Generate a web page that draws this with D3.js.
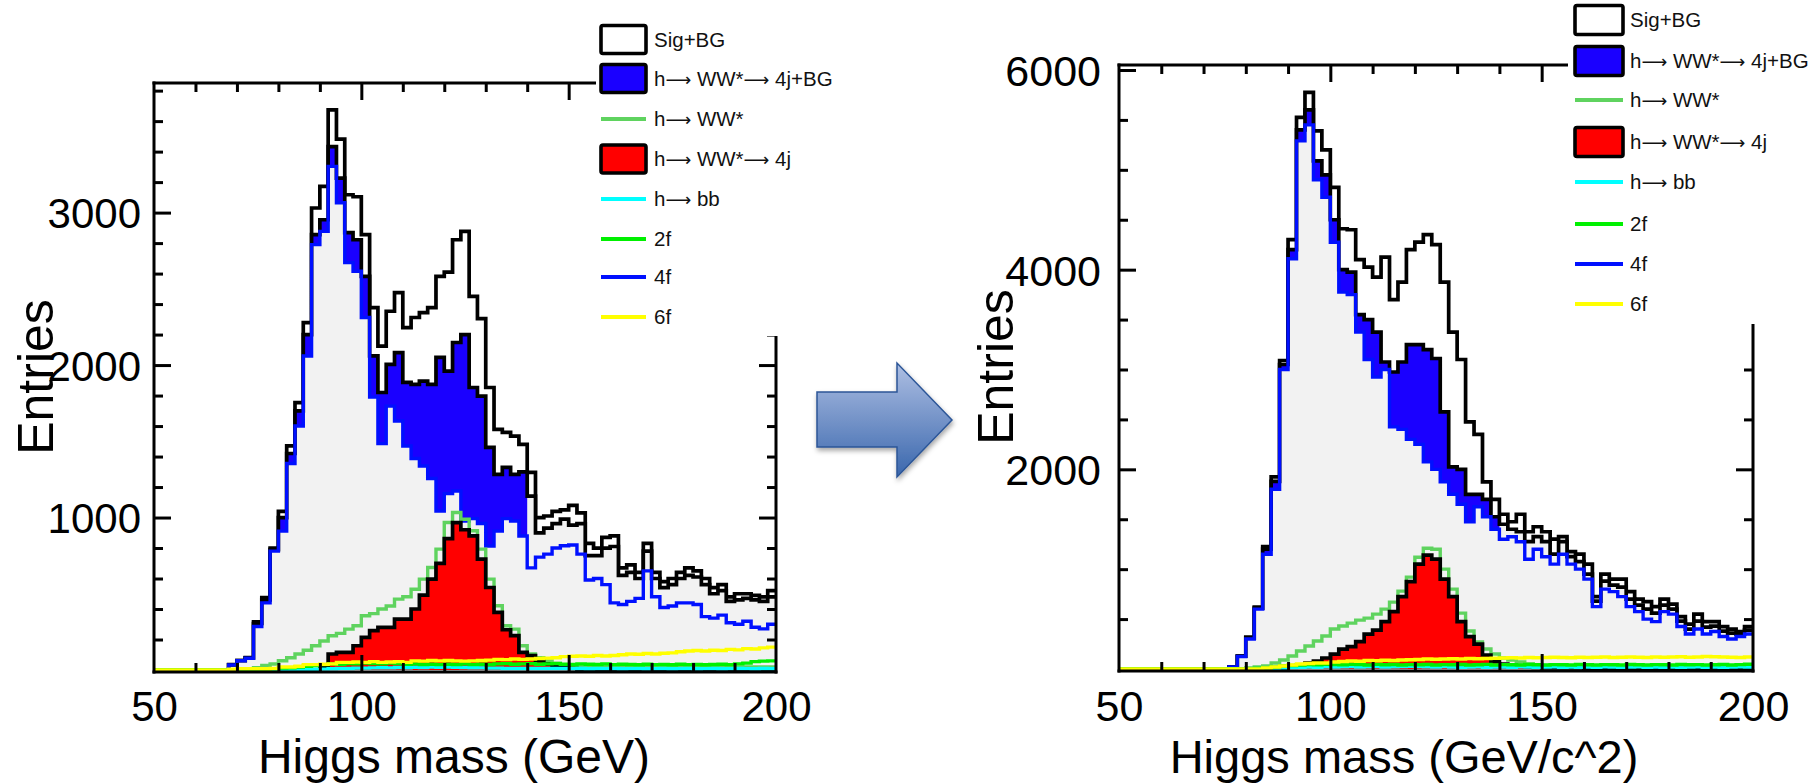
<!DOCTYPE html>
<html><head><meta charset="utf-8">
<script src="https://cdn.jsdelivr.net/npm/d3@7"></script>
<style>
html,body{margin:0;padding:0;background:#fff;}
svg{display:block;font-family:"Liberation Sans",Arial,Helvetica,sans-serif;}
</style></head><body>
<svg id="chart" width="1818" height="783"></svg>
<script>
// ---------------- DATA ----------------
const binLow = d3.range(50, 200, 2); // 75 bins, 2 GeV wide, 50..200

// LEFT panel (Higgs mass (GeV))
const L_sigBG = [0,0,0,0,0, 0,0,0,0,35, 62,82,315,475,800, 1040,1470,1754,2279,3030,
  3172,3674,3482,3117,3104, 2855,2377,2124,2353,2475, 2246,2312,2344,2377,2582,
  2609,2822,2877,2451,2305, 1853,1578,1558,1534,1480, 1296,1000,1010,1040,1050,
  1080,1030,830,800,870, 880,670,690,640,830, 640,580,600,640,670,
  650,600,540,560,480, 500,500,490,480,520];
const L_sig4jBG = [0,0,0,0,0, 0,0,0,0,34, 61,79,305,460,790, 1000,1420,1700,2200,2855,
  2953,3433,3226,2868,2822, 2582,2060,1820,2004,2082, 1886,1873,1895,1873,2050,
  1960,2148,2200,1853,1796, 1460,1283,1329,1283,1300, 1140,900,930,960,990,
  950,960,750,750,800, 810,620,640,600,780, 600,540,560,600,620,
  610,560,500,520,450, 460,470,460,450,480];
const L_bgAll = [0,0,0,0,0, 0,0,0,0,33, 61,77,285,440,780, 911,1354,1600,2059,2790,
  2877,3303,3065,2672,2615, 2312,1790,1485,1731,1633, 1469,1387,1338,1256,1043,
  1157,1174,977,993,961, 813,911,993,977,879, 1140,900,930,960,990,
  950,960,750,750,800, 810,620,640,600,780, 600,540,560,600,620,
  610,560,500,520,450, 460,470,460,450,480];
const L_f4 = [0,0,0,0,0, 0,0,0,0,33, 61,77,285,440,780, 911,1354,1600,2059,2790,
  2877,3303,3065,2672,2615, 2312,1790,1485,1731,1633, 1469,1387,1338,1256,1043,
  1157,1174,977,993,961, 813,911,993,977,879, 670,740,760,800,815,
  820,760,590,600,560, 440,430,450,470,650, 480,410,420,440,440,
  430,350,340,360,310, 300,320,280,270,300];
const L_hww = [0,0,0,0,0, 0,0,0,0,0, 0,5,15,30,39, 61,80,105,130,159,
  190,225,240,268,290, 356,370,400,420,465, 480,530,596,672,793,
  967,1033,989,913,793, 596,421,290,268,159, 105,80,60,45,35,
  30,25,25,25,25, 25,25,25,25,25, 25,20,20,20,20,
  20,20,20,20,20, 20,20,20,20,20];
const L_h4j = [0,0,0,0,0, 0,0,0,0,0, 0,0,0,0,0, 0,0,0,0,0,
  20,105,116,116,159, 214,258,279,279,334, 334,400,491,596,699,
  862,967,920,880,727, 541,378,264,225,116, 94,61,40,25,15,
  10,5,5,5,5, 5,5,5,5,5, 4,4,4,4,4,
  3,3,3,3,3, 3,3,3,3,3];
const L_hbb = [0,0,0,0,0, 0,0,0,0,0, 0,0,0,0,0, 0,2,3,4,5,
  6,8,10,10,12, 12,14,15,14,16, 15,18,16,20,18,
  20,18,16,15,14, 12,12,10,10,10, 10,10,10,10,10,
  9,10,8,10,9, 10,8,9,10,8, 9,10,8,9,10,
  8,9,10,8,9, 10,9,8,10,9];
const L_f2 = [0,0,0,0,0, 0,0,0,0,0, 0,0,3,5,8, 12,15,20,25,30,
  35,40,38,42,40, 45,42,40,45,42, 38,40,36,38,35,
  38,36,40,35,38, 36,40,42,38,40, 42,38,40,42,38,
  36,40,38,36,40, 35,38,36,34,38, 35,36,34,38,35,
  36,34,36,38,35, 40,45,55,58,60];
const L_f6 = [0,0,0,0,0, 0,0,0,0,5, 8,8,8,8,10, 20,20,25,35,35,
  38,40,50,50,52, 50,55,50,52,55, 50,60,58,62,60,
  62,60,58,60,62, 65,70,68,72,70, 72,75,78,80,88,
  90,92,90,95,92, 95,100,105,103,108, 105,110,112,120,125,
  128,125,130,128,135, 132,140,138,145,150];

// RIGHT panel (Higgs mass (GeV/c^2))
const R_sigBG = [0,0,0,0,0, 0,0,0,0,0, 0,0,0,20,130, 320,620,1225,1925,3090,
  4300,5525,5775,5390,5200, 4825,4410,4400,4100,4025, 3925,4125,3700,3875,4200,
  4275,4350,4250,3875,3375, 3100,2475,2350,1875,1700, 1550,1475,1550,1375,1425,
  1375,1300,1325,1175,1150, 1050,725,950,900,900, 775,700,675,625,700,
  650,525,450,550,475, 475,425,400,375,425];
const R_sig4jBG = [0,0,0,0,0, 0,0,0,0,0, 0,0,0,20,128, 310,610,1200,1880,3050,
  4200,5400,5600,5090,4950, 4500,4000,3975,3550,3500, 3375,3075,2975,3075,3250,
  3250,3200,3110,2575,2025, 2000,1750,1750,1700,1525, 1450,1400,1375,1275,1325,
  1275,1150,1275,1125,1075, 950,680,880,840,820, 700,640,600,560,640,
  600,480,400,480,420, 430,380,360,350,390];
const R_bgAll = [0,0,0,0,0, 0,0,0,0,0, 0,0,0,20,125, 300,600,1150,1800,3000,
  4110,5290,5450,4900,4725, 4275,3775,3750,3375,3100, 2925,3000,2425,2400,2300,
  2250,2075,2000,1875,1750, 1650,1475,1625,1525,1400, 1450,1400,1375,1275,1325,
  1275,1150,1275,1125,1075, 950,680,880,840,820, 700,640,600,560,640,
  600,480,400,480,420, 430,380,360,350,390];
const R_f4 = [0,0,0,0,0, 0,0,0,0,0, 0,0,0,20,125, 300,600,1150,1800,3000,
  4110,5290,5450,4900,4725, 4275,3775,3750,3375,3100, 2925,3000,2425,2400,2300,
  2250,2075,2000,1875,1750, 1650,1475,1625,1525,1400, 1300,1325,1275,1100,1200,
  1125,1050,1150,1050,1000, 900,625,800,775,725, 625,575,500,475,575,
  550,425,350,400,350, 375,325,300,325,350];
const R_hww = [0,0,0,0,0, 0,0,0,0,0, 0,0,0,0,0, 10,20,30,60,90,
  130,180,230,280,330, 400,430,460,490,510, 550,600,670,780,920,
  1120,1210,1200,1000,800, 560,380,270,200,150, 110,90,70,50,40,
  35,30,30,30,30, 30,20,20,20,20, 20,20,20,20,20,
  20,20,20,20,20, 20,20,20,20,20];
const R_h4j = [0,0,0,0,0, 0,0,0,0,0, 0,0,0,0,0, 0,0,0,0,0,
  20,40,60,80,110, 150,200,225,275,350, 390,475,575,725,875,
  1050,1140,1100,900,725, 475,325,250,140,75, 50,40,30,20,15,
  10,10,10,10,10, 5,5,5,5,5, 5,5,5,5,5,
  5,5,5,5,5, 5,5,5,5,5];
const R_hbb = [0,0,0,0,0, 0,0,0,0,0, 0,0,0,0,0, 0,0,5,8,10,
  15,18,20,18,22, 20,22,25,20,22, 25,20,22,25,28,
  25,22,20,24,20, 18,20,22,18,20, 20,18,22,20,18,
  20,22,18,20,18, 20,18,22,20,18, 20,22,18,20,18,
  20,18,20,22,18, 20,18,20,22,20];
const R_f2 = [0,0,0,0,0, 0,0,0,0,0, 0,0,0,0,0, 0,5,10,20,30,
  35,40,45,42,48, 45,42,48,44,40, 46,42,45,40,44,
  42,45,40,44,42, 45,40,42,46,40, 44,42,40,45,42,
  40,44,42,40,45, 42,40,44,42,40, 45,42,40,44,42,
  40,45,42,44,40, 42,45,40,44,48];
const R_f6 = [0,0,0,0,0, 0,0,0,0,0, 0,0,0,0,0, 0,0,10,20,30,
  40,50,55,60,60, 70,75,80,78,85, 82,88,85,90,92,
  95,100,98,100,102, 100,105,102,105,108, 110,112,110,115,112,
  115,118,115,112,118, 115,118,120,115,118, 120,118,115,120,118,
  120,122,118,120,125, 122,120,118,115,120];

const legendLabels = ["Sig+BG", "h\u2192 WW*\u2192 4j+BG", "h\u2192 WW*", "h\u2192 WW*\u2192 4j", "h\u2192 bb", "2f", "4f", "6f"];
const xTickLabels = [50, 100, 150, 200];
const L_yTickLabels = [1000, 2000, 3000];
const R_yTickLabels = [2000, 4000, 6000];

// ---------------- STYLE ----------------
const C = {blueFill:"#1a00ff", f4:"#0010ff", hww:"#5fd35f", red:"#ff0000",
  hbb:"#00ffff", f2:"#00f000", f6:"#ffff00", gray:"#f2f2f2"};
const legendKinds = [
  {type:"box", fill:"#ffffff"}, {type:"box", fill:C.blueFill}, {type:"line", color:C.hww},
  {type:"box", fill:C.red}, {type:"line", color:C.hbb}, {type:"line", color:C.f2},
  {type:"line", color:C.f4}, {type:"line", color:C.f6}];

const svg = d3.select("#chart");
const defs = svg.append("defs");

const panels = [
  {id:"L", x0:154, x1:776, yTop:83, yZero:670, yMax:3850, minorY:200, majorY:1000,
   yLabels:L_yTickLabels, yLabelRight:141, yLabelSize:42, xTitle:"Higgs mass (GeV)", xTitleX:454, xTitleSize:48,
   yTitleX:53, yTitleY:377, legX:596, legEnd:336, boxX:601, boxW:45, textX:654,
   rowY:[39.5,78.5,119,159,199,239,277,317], boxH:28,
   s:{sig:L_sigBG, s4j:L_sig4jBG, bg:L_bgAll, f4:L_f4, hww:L_hww, h4j:L_h4j, hbb:L_hbb, f2:L_f2, f6:L_f6}},
  {id:"R", x0:1119, x1:1753, yTop:65, yZero:669, yMax:6050, minorY:500, majorY:2000,
   yLabels:R_yTickLabels, yLabelRight:1101, yLabelSize:43, xTitle:"Higgs mass (GeV/c^2)", xTitleX:1404, xTitleSize:47,
   yTitleX:1013, yTitleY:367, legX:1568, legEnd:324, boxX:1575, boxW:48, textX:1630,
   rowY:[20,61,100,142,182,224,264,304], boxH:29,
   s:{sig:R_sigBG, s4j:R_sig4jBG, bg:R_bgAll, f4:R_f4, hww:R_hww, h4j:R_h4j, hbb:R_hbb, f2:R_f2, f6:R_f6}}
];

function stepPts(vals){
  const p = binLow.map((m,i)=>[m, vals[i]]);
  p.push([200, vals[vals.length-1]]);
  return p;
}

panels.forEach(P => {
  const x = d3.scaleLinear().domain([50,200]).range([P.x0, P.x1]);
  const y = d3.scaleLinear().domain([0,P.yMax]).range([P.yZero, P.yTop]);
  const line = d3.line().x(d=>x(d[0])).y(d=>y(d[1])).curve(d3.curveStepAfter);
  const area = d3.area().x(d=>x(d[0])).y0(y(0)).y1(d=>y(d[1])).curve(d3.curveStepAfter);

  defs.append("clipPath").attr("id","clip"+P.id).append("rect")
    .attr("x",P.x0).attr("y",P.yTop).attr("width",P.x1-P.x0).attr("height",P.yZero+1.5-P.yTop);
  const g = svg.append("g").attr("clip-path","url(#clip"+P.id+")");
  const S = P.s;
  const drawLine = (vals, color, w) => g.append("path").attr("d", line(stepPts(vals)))
    .attr("fill","none").attr("stroke",color).attr("stroke-width",w).attr("stroke-linejoin","miter");
  const drawArea = (vals, color) => g.append("path").attr("d", area(stepPts(vals))).attr("fill",color);

  drawArea(S.sig, "#ffffff");
  drawLine(S.sig, "#000", 3.7);
  drawArea(S.s4j, C.blueFill);
  drawArea(S.bg, C.gray);
  drawLine(S.s4j, "#000", 3.7);
  drawLine(S.f4, C.f4, 3.4);
  drawLine(S.hww, C.hww, 3.4);
  drawArea(S.h4j, C.red);
  drawLine(S.h4j, "#000", 3.7);
  drawLine(S.hbb, C.hbb, 3.4);
  drawLine(S.f2, C.f2, 3.4);
  drawLine(S.f6, C.f6, 3.4);

  // ---- axes frame + ticks ----
  const ax = svg.append("g");
  const yb = P.yZero + 2;
  const styleAxis = sel => { sel.select(".domain").remove();
    sel.selectAll(".tick line").attr("stroke","#000").attr("stroke-width",3); };
  const minorYs = d3.range(P.minorY, P.yMax, P.minorY).filter(v => v % P.majorY !== 0);
  const majorYs = d3.range(P.majorY, P.yMax, P.majorY);
  const minorXs = d3.range(60, 200, 10).filter(v => v % 50 !== 0);
  const majorXs = [100, 150];
  ax.append("g").attr("transform",`translate(${P.x0},0)`).call(d3.axisRight(y).tickValues(minorYs).tickSize(9).tickFormat("")).call(styleAxis);
  ax.append("g").attr("transform",`translate(${P.x0},0)`).call(d3.axisRight(y).tickValues(majorYs).tickSize(17).tickFormat("")).call(styleAxis);
  ax.append("g").attr("transform",`translate(${P.x1},0)`).call(d3.axisLeft(y).tickValues(minorYs).tickSize(9).tickFormat("")).call(styleAxis);
  ax.append("g").attr("transform",`translate(${P.x1},0)`).call(d3.axisLeft(y).tickValues(majorYs).tickSize(17).tickFormat("")).call(styleAxis);
  ax.append("g").attr("transform",`translate(0,${yb})`).call(d3.axisTop(x).tickValues(minorXs).tickSize(9).tickFormat("")).call(styleAxis);
  ax.append("g").attr("transform",`translate(0,${yb})`).call(d3.axisTop(x).tickValues(majorXs).tickSize(17).tickFormat("")).call(styleAxis);
  ax.append("g").attr("transform",`translate(0,${P.yTop})`).call(d3.axisBottom(x).tickValues(minorXs).tickSize(9).tickFormat("")).call(styleAxis);
  ax.append("g").attr("transform",`translate(0,${P.yTop})`).call(d3.axisBottom(x).tickValues(majorXs).tickSize(17).tickFormat("")).call(styleAxis);
  const fr = ax.append("g").attr("stroke","#000").attr("stroke-width",3).attr("fill","none");
  fr.append("line").attr("x1",P.x0).attr("x2",P.x0).attr("y1",P.yTop-1.5).attr("y2",yb+1.5);
  fr.append("line").attr("x1",P.x1).attr("x2",P.x1).attr("y1",P.yTop-1.5).attr("y2",yb+1.5);
  fr.append("line").attr("x1",P.x0-1.5).attr("x2",P.x1+1.5).attr("y1",P.yTop).attr("y2",P.yTop);
  fr.append("line").attr("x1",P.x0-1.5).attr("x2",P.x1+1.5).attr("y1",yb).attr("y2",yb);

  // tick labels
  const yl = svg.append("g").attr("transform",`translate(${P.yLabelRight},0)`)
    .call(d3.axisLeft(y).tickValues(P.yLabels).tickSize(0).tickPadding(0).tickFormat(d3.format("d")));
  yl.select(".domain").remove();
  yl.selectAll("text").attr("font-size",P.yLabelSize).attr("font-family","Liberation Sans, Arial, sans-serif").attr("fill","#000").attr("dy","0.36em");
  const xl = svg.append("g").attr("transform",`translate(0,721)`)
    .call(d3.axisBottom(x).tickValues(xTickLabels).tickSize(0).tickPadding(0).tickFormat(d3.format("d")));
  xl.select(".domain").remove();
  xl.selectAll("text").attr("font-size",P.yLabelSize).attr("font-family","Liberation Sans, Arial, sans-serif").attr("fill","#000").attr("dy","0").attr("y",0);

  // titles
  svg.append("text").attr("x",P.xTitleX).attr("y",773).attr("text-anchor","middle")
    .attr("font-size",P.xTitleSize).text(P.xTitle);
  svg.append("text").attr("transform",`translate(${P.yTitleX},${P.yTitleY}) rotate(-90)`)
    .attr("text-anchor","middle").attr("font-size",50).text("Entries");

  // ---- legend ----
  svg.append("rect").attr("x",P.legX).attr("y",0).attr("width",P.x1+60-P.legX).attr("height",P.legEnd).attr("fill","#fff");
  const lg = svg.append("g");
  legendLabels.forEach((lab,i) => {
    const k = legendKinds[i], cy = P.rowY[i];
    if (k.type === "box") {
      lg.append("rect").attr("x",P.boxX).attr("y",cy-P.boxH/2).attr("width",P.boxW).attr("height",P.boxH)
        .attr("rx",2).attr("fill",k.fill).attr("stroke","#000").attr("stroke-width",3.6);
    } else {
      lg.append("line").attr("x1",P.boxX).attr("x2",P.boxX+P.boxW).attr("y1",cy).attr("y2",cy)
        .attr("stroke",k.color).attr("stroke-width",4);
    }
    const t = lg.append("text").attr("x",P.textX).attr("y",cy).attr("dy","0.35em").attr("font-size",20.5)
      .attr("fill","#111");
    lab.split("\u2192").forEach((part, j) => {
      if (j > 0) t.append("tspan").attr("font-family","DejaVu Sans").attr("font-size",18).text("\u27F6");
      t.append("tspan").text(part);
    });
  });
});

// ---------------- ARROW ----------------
const grad = defs.append("linearGradient").attr("id","arrowGrad").attr("x1",0).attr("y1",0).attr("x2",0).attr("y2",1);
grad.append("stop").attr("offset","0%").attr("stop-color","#aebfe3");
grad.append("stop").attr("offset","100%").attr("stop-color","#3a67ad");
const flt = defs.append("filter").attr("id","shadow").attr("x","-20%").attr("y","-20%").attr("width","140%").attr("height","150%");
flt.append("feDropShadow").attr("dx",1).attr("dy",3).attr("stdDeviation",2.5).attr("flood-color","#000").attr("flood-opacity",0.35);
const arrowPts = [[817,392],[897,392],[897,363],[952,420],[897,477],[897,447],[817,447]];
svg.append("path").attr("d", d3.line()(arrowPts) + "Z")
  .attr("fill","url(#arrowGrad)").attr("stroke","#2b5597").attr("stroke-width",1.5)
  .attr("filter","url(#shadow)");
</script>
</body></html>
